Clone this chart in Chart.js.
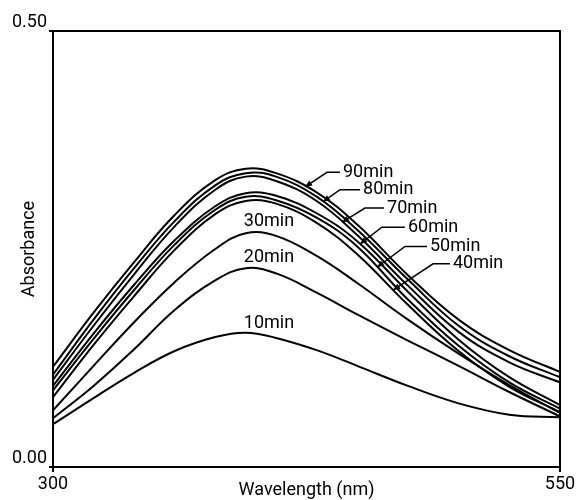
<!DOCTYPE html>
<html>
<head>
<meta charset="utf-8">
<script src="https://cdn.jsdelivr.net/npm/chart.js@4.4.0/dist/chart.umd.min.js"></script>
<style>
  html, body { margin: 0; padding: 0; background: #fff; }
</style>
</head>
<body>
<canvas id="chart" width="581" height="500"></canvas>
<script>
// absorbance spectra
const wavelengths = [300, 320, 340, 360, 380, 395, 410, 430, 450, 475, 500, 525, 550];

const abs10 = [0.049, 0.079, 0.108, 0.133, 0.149, 0.154, 0.148, 0.134, 0.116, 0.093, 0.073, 0.060, 0.057];
const abs20 = [0.056, 0.093, 0.135, 0.180, 0.214, 0.228, 0.222, 0.200, 0.175, 0.145, 0.116, 0.086, 0.058];
const abs30 = [0.065, 0.116, 0.166, 0.212, 0.250, 0.268, 0.265, 0.242, 0.211, 0.169, 0.130, 0.094, 0.062];
const abs40 = [0.080, 0.140, 0.196, 0.249, 0.290, 0.305, 0.302, 0.280, 0.244, 0.186, 0.133, 0.092, 0.063];
const abs50 = [0.088, 0.147, 0.203, 0.255, 0.295, 0.310, 0.306, 0.286, 0.253, 0.192, 0.139, 0.097, 0.067];
const abs60 = [0.093, 0.153, 0.209, 0.260, 0.299, 0.314, 0.311, 0.291, 0.259, 0.201, 0.146, 0.103, 0.071];
const abs70 = [0.100, 0.162, 0.221, 0.276, 0.318, 0.333, 0.328, 0.305, 0.266, 0.208, 0.155, 0.120, 0.097];
const abs80 = [0.106, 0.169, 0.228, 0.282, 0.323, 0.337, 0.333, 0.310, 0.272, 0.215, 0.162, 0.127, 0.103];
const abs90 = [0.115, 0.177, 0.235, 0.289, 0.329, 0.342, 0.337, 0.315, 0.278, 0.220, 0.169, 0.134, 0.109];

const seriesNames = ['10min', '20min', '30min', '40min', '50min', '60min', '70min', '80min', '90min'];
const seriesValues = [abs10, abs20, abs30, abs40, abs50, abs60, abs70, abs80, abs90];

const xTicks = [300, 550];
const yTicks = [0, 0.5];

const FONT = "Roboto, 'DejaVu Sans', sans-serif";
Chart.defaults.font.family = FONT;
Chart.defaults.color = '#000';

// label placement (data units): plain labels above curves, and arrow callouts
const plainLabels = [
  { name: '10min', w: 406.5, a: 0.165 },
  { name: '20min', w: 406.5, a: 0.240 },
  { name: '30min', w: 406.5, a: 0.281 }
];
const callouts = [
  { name: '90min', textW: 443.0, textA: 0.338, elbowW: 435.1, tipW: 424.3 },
  { name: '80min', textW: 452.9, textA: 0.318, elbowW: 441.5, tipW: 433.1 },
  { name: '70min', textW: 464.7, textA: 0.297, elbowW: 453.8, tipW: 442.5 },
  { name: '60min', textW: 475.0, textA: 0.275, elbowW: 462.2, tipW: 451.4 },
  { name: '50min', textW: 485.9, textA: 0.253, elbowW: 473.6, tipW: 459.8 },
  { name: '40min', textW: 497.2, textA: 0.233, elbowW: 487.4, tipW: 467.7 }
];

function valueAt(values, w) {
  for (let i = 1; i < wavelengths.length; i++) {
    if (w <= wavelengths[i]) {
      const t = (w - wavelengths[i - 1]) / (wavelengths[i] - wavelengths[i - 1]);
      return values[i - 1] + t * (values[i] - values[i - 1]);
    }
  }
  return values[values.length - 1];
}

function arrowHead(ctx, fx, fy, tx, ty) {
  const ang = Math.atan2(ty - fy, tx - fx);
  const len = 7, half = 3;
  const bx = tx - len * Math.cos(ang), by = ty - len * Math.sin(ang);
  ctx.beginPath();
  ctx.moveTo(tx, ty);
  ctx.lineTo(bx + half * Math.sin(ang), by - half * Math.cos(ang));
  ctx.lineTo(bx - half * Math.sin(ang), by + half * Math.cos(ang));
  ctx.closePath();
  ctx.fill();
}

const annotate = {
  id: 'annotate',
  afterDatasetsDraw(chart) {
    const { ctx, chartArea: a, scales: { x, y } } = chart;
    ctx.save();
    ctx.strokeStyle = '#000';
    ctx.fillStyle = '#000';
    ctx.lineWidth = 2;
    ctx.strokeRect(a.left, a.top, a.right - a.left, a.bottom - a.top);

    ctx.font = '18px ' + FONT;
    ctx.textBaseline = 'middle';
    ctx.textAlign = 'center';
    plainLabels.forEach(l => {
      ctx.fillText(l.name, x.getPixelForValue(l.w), y.getPixelForValue(l.a));
    });

    ctx.textAlign = 'left';
    ctx.lineWidth = 1.5;
    callouts.forEach(c => {
      const values = seriesValues[seriesNames.indexOf(c.name)];
      const tx = x.getPixelForValue(c.textW);
      const ty = y.getPixelForValue(c.textA);
      const ex = x.getPixelForValue(c.elbowW);
      const px = x.getPixelForValue(c.tipW);
      const py = y.getPixelForValue(valueAt(values, c.tipW));
      ctx.beginPath();
      ctx.moveTo(tx - 3, ty);
      ctx.lineTo(ex, ty);
      ctx.lineTo(px, py);
      ctx.stroke();
      arrowHead(ctx, ex, ty, px, py);
      ctx.fillText(c.name, tx, ty);
    });
    ctx.restore();
  }
};

const chart = new Chart(document.getElementById('chart'), {
  type: 'line',
  data: {
    datasets: seriesValues.map((vals, i) => ({
      label: seriesNames[i],
      data: wavelengths.map((w, j) => ({ x: w, y: vals[j] })),
      borderColor: '#000',
      borderWidth: 2,
      pointRadius: 0,
      fill: false,
      tension: 0.4
    }))
  },
  options: {
    responsive: false,
    animation: false,
    layout: { padding: { top: 31, right: 21, left: 0, bottom: 0 } },
    plugins: {
      legend: { display: false },
      tooltip: { enabled: false }
    },
    scales: {
      x: {
        type: 'linear',
        min: 300,
        max: 550,
        afterBuildTicks: s => { s.ticks = xTicks.map(v => ({ value: v })); },
        afterFit: s => { s.height = 33; },
        ticks: { color: '#000', font: { size: 18 }, maxRotation: 0, padding: 2 },
        grid: { drawOnChartArea: false, drawTicks: true, tickLength: 5, color: '#000', lineWidth: 2 },
        border: { color: '#000', width: 2 },
        title: {
          display: true,
          text: 'Wavelength (nm)',
          color: '#000',
          font: { size: 18 },
          padding: { top: 0, bottom: -1 }
        }
      },
      y: {
        min: 0,
        max: 0.5,
        afterBuildTicks: s => { s.ticks = yTicks.map(v => ({ value: v })); },
        afterFit: s => { s.width = 53; },
        ticks: {
          color: '#000',
          font: { size: 18 },
          padding: 2,
          labelOffset: -9,
          callback: v => v.toFixed(2)
        },
        grid: { drawOnChartArea: false, drawTicks: true, tickLength: 4, color: '#000', lineWidth: 2 },
        border: { color: '#000', width: 2 },
        title: {
          display: true,
          text: 'Absorbance',
          color: '#000',
          font: { size: 18 },
          padding: { top: 19, bottom: 0 }
        }
      }
    }
  },
  plugins: [annotate]
});
</script>
</body>
</html>
